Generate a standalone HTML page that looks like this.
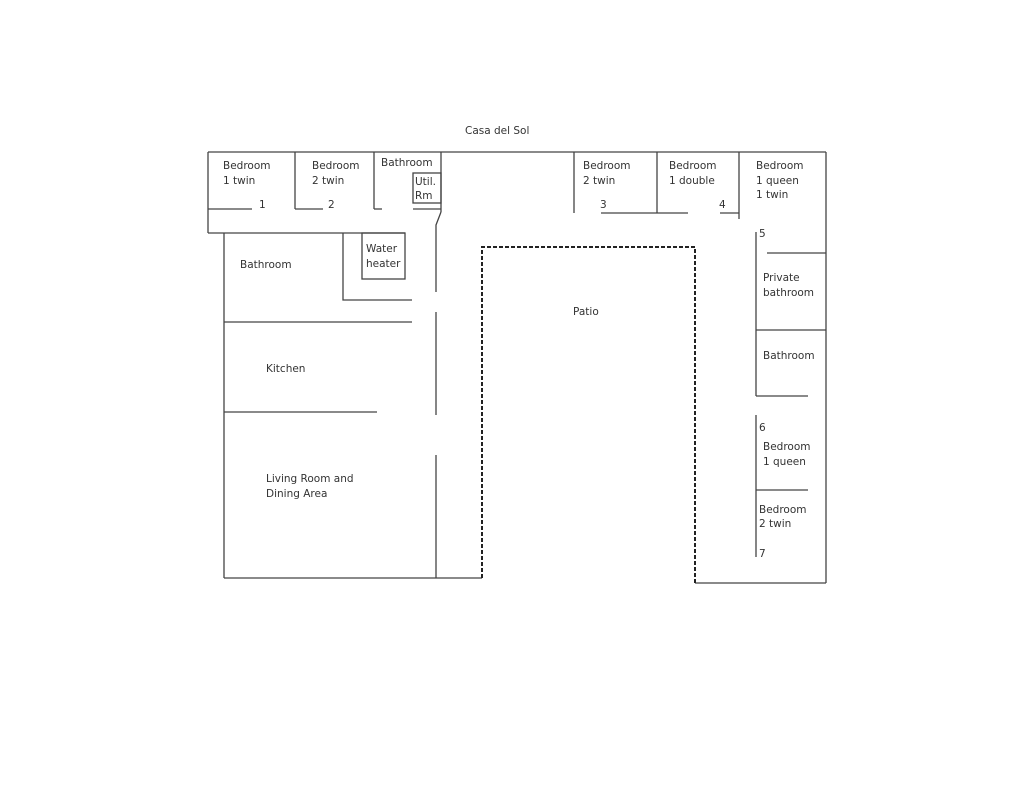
<!DOCTYPE html>
<html><head><meta charset="utf-8"><style>
html,body{margin:0;padding:0;background:#fff;}
svg{display:block;}
text{font-family:"DejaVu Sans","Liberation Sans",sans-serif;font-size:10.5px;fill:#333;}
</style></head><body>
<svg width="1024" height="792" viewBox="0 0 1024 792" xmlns="http://www.w3.org/2000/svg">
<g stroke="#444" stroke-width="1.3" fill="none">
<!-- top -->
<line x1="208" y1="152" x2="826" y2="152"/>
<line x1="208" y1="152" x2="208" y2="233"/>
<line x1="208" y1="233" x2="405" y2="233"/>
<line x1="208" y1="209" x2="252" y2="209"/>
<line x1="295" y1="152" x2="295" y2="209"/>
<line x1="295" y1="209" x2="323" y2="209"/>
<line x1="374" y1="152" x2="374" y2="209"/>
<line x1="374" y1="209" x2="382" y2="209"/>
<line x1="441" y1="152" x2="441" y2="212"/>
<rect x="413" y="173" width="28" height="30"/>
<line x1="413" y1="209" x2="441" y2="209"/>
<polyline points="441,212 436,225 436,292"/>
<!-- water heater -->
<rect x="362" y="233" width="43" height="46"/>
<polyline points="343,233 343,300 412,300"/>
<!-- left -->
<line x1="224" y1="233" x2="224" y2="578"/>
<line x1="224" y1="578" x2="482" y2="578"/>
<line x1="224" y1="322" x2="412" y2="322"/>
<line x1="224" y1="412" x2="377" y2="412"/>
<line x1="436" y1="312" x2="436" y2="415"/>
<line x1="436" y1="455" x2="436" y2="578"/>
<!-- top right -->
<line x1="574" y1="152" x2="574" y2="213"/>
<line x1="657" y1="152" x2="657" y2="213"/>
<line x1="601" y1="213" x2="688" y2="213"/>
<line x1="720" y1="213" x2="739" y2="213"/>
<line x1="739" y1="152" x2="739" y2="219"/>
<line x1="826" y1="152" x2="826" y2="583"/>
<line x1="695" y1="583" x2="826" y2="583"/>
<line x1="756" y1="232" x2="756" y2="396"/>
<line x1="767" y1="253" x2="826" y2="253"/>
<line x1="756" y1="330" x2="826" y2="330"/>
<line x1="756" y1="396" x2="808" y2="396"/>
<line x1="756" y1="415" x2="756" y2="557"/>
<line x1="756" y1="490" x2="808" y2="490"/>
</g>
<!-- patio dashed -->
<polyline points="482,578 482,247 695,247 695,583" stroke="#222" stroke-width="2" fill="none" stroke-dasharray="4,2"/>
<text x="465" y="134">Casa del Sol</text>
<text x="223" y="169">Bedroom</text><text x="223" y="184">1 twin</text>
<text x="259" y="208">1</text>
<text x="312" y="169">Bedroom</text><text x="312" y="184">2 twin</text>
<text x="328" y="208">2</text>
<text x="381" y="166">Bathroom</text>
<text x="415" y="185">Util.</text><text x="415" y="199">Rm</text>
<text x="366" y="252">Water</text><text x="366" y="267">heater</text>
<text x="240" y="268">Bathroom</text>
<text x="266" y="372">Kitchen</text>
<text x="266" y="482">Living Room and</text><text x="266" y="497">Dining Area</text>
<text x="573" y="315">Patio</text>
<text x="583" y="169">Bedroom</text><text x="583" y="184">2 twin</text>
<text x="600" y="208">3</text>
<text x="669" y="169">Bedroom</text><text x="669" y="184">1 double</text>
<text x="719" y="208">4</text>
<text x="756" y="169">Bedroom</text><text x="756" y="184">1 queen</text><text x="756" y="198">1 twin</text>
<text x="759" y="237">5</text>
<text x="763" y="281">Private</text><text x="763" y="296">bathroom</text>
<text x="763" y="359">Bathroom</text>
<text x="759" y="431">6</text>
<text x="763" y="450">Bedroom</text><text x="763" y="465">1 queen</text>
<text x="759" y="513">Bedroom</text><text x="759" y="527">2 twin</text>
<text x="759" y="557">7</text>
</svg>
</body></html>
